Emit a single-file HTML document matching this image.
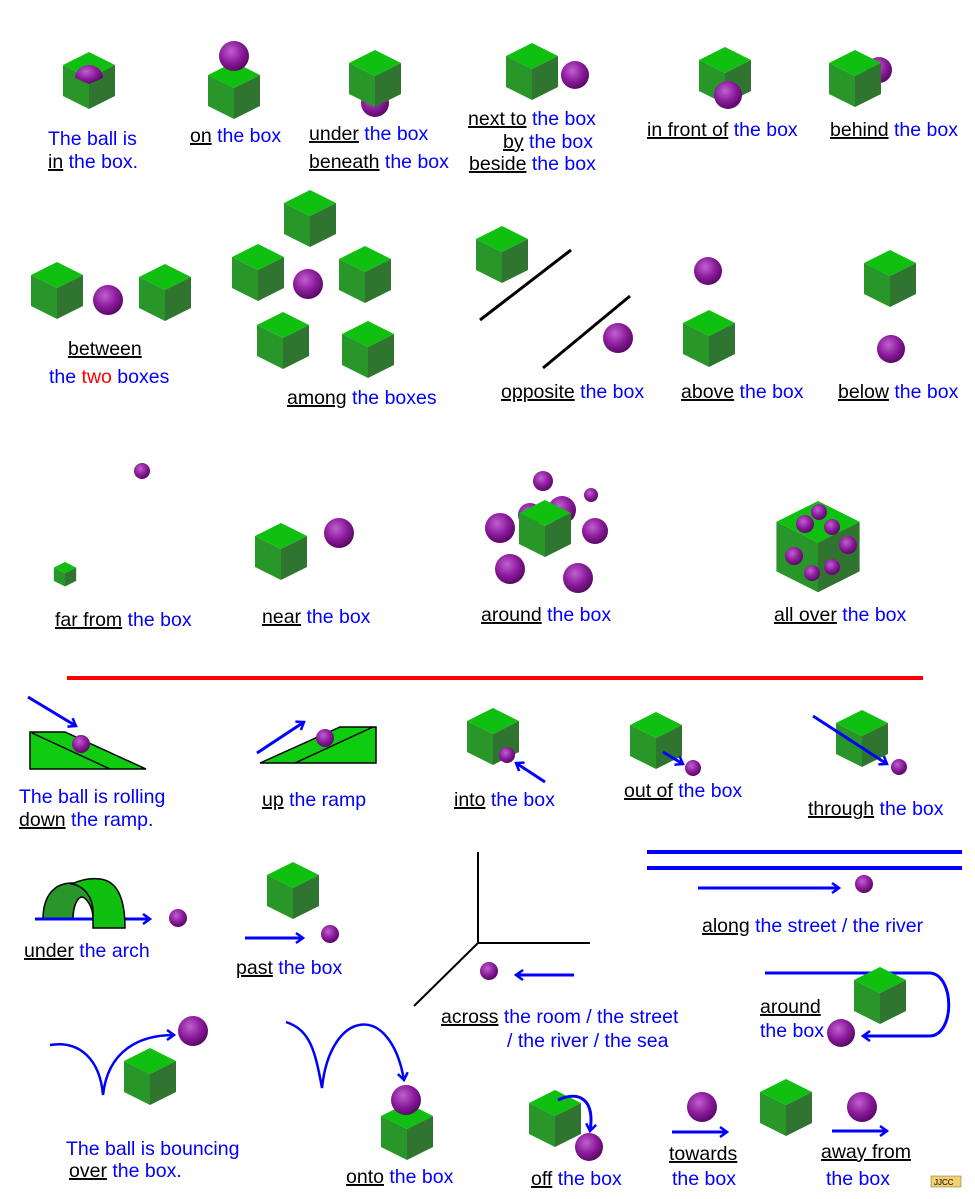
<!DOCTYPE html>
<html><head><meta charset="utf-8"><style>
body{margin:0;background:#fff}
svg{display:block}
text{font-family:"Liberation Sans",sans-serif;font-size:19.5px;fill:#0000ff}
.k{fill:#000}
</style></head><body>
<svg width="975" height="1199" viewBox="0 0 975 1199" xmlns="http://www.w3.org/2000/svg">
<defs>
<radialGradient id="bg" cx="0.4" cy="0.35" r="0.65">
<stop offset="0" stop-color="#c060d0"/><stop offset="0.6" stop-color="#8a1a9a"/><stop offset="1" stop-color="#5a0a66"/>
</radialGradient>
<g id="cube">
<polygon points="0,0 -26,13 0,26 26,13" fill="#10c010"/>
<polygon points="-26,13 0,26 0,57 -26,44" fill="#289628"/>
<polygon points="26,13 0,26 0,57 26,44" fill="#2f7530"/>
</g>
<marker id="ar" markerWidth="10" markerHeight="12" refX="8" refY="6" orient="auto" markerUnits="userSpaceOnUse">
<polyline points="1,1 8,6 1,11" fill="none" stroke="#0000ff" stroke-width="2.5"/>
</marker>
</defs>
<!-- row 1 -->
<use href="#cube" x="89" y="52"/>
<path d="M75,78 A14,13 0 0 1 103,78 L89,84 Z" fill="url(#bg)"/>
<use href="#cube" x="234" y="62"/>
<circle cx="234" cy="56" r="15" fill="url(#bg)"/>
<circle cx="375" cy="103" r="14" fill="url(#bg)"/>
<use href="#cube" x="375" y="50"/>
<use href="#cube" x="532" y="43"/>
<circle cx="575" cy="75" r="14" fill="url(#bg)"/>
<use href="#cube" x="725" y="47"/>
<circle cx="728" cy="95" r="14" fill="url(#bg)"/>
<circle cx="879" cy="70" r="13" fill="url(#bg)"/>
<use href="#cube" x="855" y="50"/>
<text x="48" y="145">The ball is</text>
<text x="48" y="168"><tspan class="k" text-decoration="underline">in</tspan> the box.</text>
<text x="190" y="142"><tspan class="k" text-decoration="underline">on</tspan>  the box</text>
<text x="309" y="140"><tspan class="k" text-decoration="underline">under</tspan>  the box</text>
<text x="309" y="168"><tspan class="k" text-decoration="underline">beneath</tspan> the box</text>
<text x="468" y="125"><tspan class="k" text-decoration="underline">next to</tspan> the box</text>
<text x="503" y="148"><tspan class="k" text-decoration="underline">by</tspan> the box</text>
<text x="469" y="170"><tspan class="k" text-decoration="underline">beside</tspan> the box</text>
<text x="647" y="136"><tspan class="k" text-decoration="underline">in front of</tspan> the box</text>
<text x="830" y="136"><tspan class="k" text-decoration="underline">behind</tspan> the box</text>
<!-- row 2 -->
<use href="#cube" x="57" y="262"/>
<use href="#cube" x="165" y="264"/>
<circle cx="108" cy="300" r="15" fill="url(#bg)"/>
<text x="68" y="355" class="k" text-decoration="underline">between</text>
<text x="49" y="383">the <tspan fill="#ff0000">two</tspan> boxes</text>
<use href="#cube" x="310" y="190"/>
<use href="#cube" x="258" y="244"/>
<use href="#cube" x="365" y="246"/>
<use href="#cube" x="283" y="312"/>
<use href="#cube" x="368" y="321"/>
<circle cx="308" cy="284" r="15" fill="url(#bg)"/>
<text x="287" y="404"><tspan class="k" text-decoration="underline">among</tspan>  the boxes</text>
<use href="#cube" x="502" y="226"/>
<line x1="480" y1="320" x2="571" y2="250" stroke="#000" stroke-width="3"/>
<line x1="543" y1="368" x2="630" y2="296" stroke="#000" stroke-width="3"/>
<circle cx="618" cy="338" r="15" fill="url(#bg)"/>
<text x="501" y="398"><tspan class="k" text-decoration="underline">opposite</tspan>  the box</text>
<circle cx="708" cy="271" r="14" fill="url(#bg)"/>
<use href="#cube" x="709" y="310"/>
<text x="681" y="398"><tspan class="k" text-decoration="underline">above</tspan>  the box</text>
<use href="#cube" x="890" y="250"/>
<circle cx="891" cy="349" r="14" fill="url(#bg)"/>
<text x="838" y="398"><tspan class="k" text-decoration="underline">below</tspan>  the box</text>
<!-- row 3 -->
<use href="#cube" transform="translate(65,562) scale(0.43)"/>
<circle cx="142" cy="471" r="8" fill="url(#bg)"/>
<text x="55" y="626"><tspan class="k" text-decoration="underline">far from</tspan>  the box</text>
<use href="#cube" x="281" y="523"/>
<circle cx="339" cy="533" r="15" fill="url(#bg)"/>
<text x="262" y="623"><tspan class="k" text-decoration="underline">near</tspan>  the box</text>
<circle cx="543" cy="481" r="10" fill="url(#bg)"/>
<circle cx="591" cy="495" r="7" fill="url(#bg)"/>
<circle cx="562" cy="510" r="14" fill="url(#bg)"/>
<circle cx="530" cy="515" r="12" fill="url(#bg)"/>
<use href="#cube" x="545" y="500"/>
<circle cx="500" cy="528" r="15" fill="url(#bg)"/>
<circle cx="595" cy="531" r="13" fill="url(#bg)"/>
<circle cx="510" cy="569" r="15" fill="url(#bg)"/>
<circle cx="578" cy="578" r="15" fill="url(#bg)"/>
<text x="481" y="621"><tspan class="k" text-decoration="underline">around</tspan>  the box</text>
<use href="#cube" transform="translate(818,501) scale(1.6)"/>
<circle cx="819" cy="512" r="8" fill="url(#bg)"/>
<circle cx="805" cy="524" r="9" fill="url(#bg)"/>
<circle cx="832" cy="527" r="8" fill="url(#bg)"/>
<circle cx="848" cy="545" r="9" fill="url(#bg)"/>
<circle cx="794" cy="556" r="9" fill="url(#bg)"/>
<circle cx="832" cy="567" r="8" fill="url(#bg)"/>
<circle cx="812" cy="573" r="8" fill="url(#bg)"/>
<text x="774" y="621"><tspan class="k" text-decoration="underline">all over</tspan> the box</text>
<line x1="67" y1="678" x2="923" y2="678" stroke="#ff0000" stroke-width="4"/>
<!-- lower -->
<polygon points="30,732 65,732 146,769 30,769" fill="#10cc10" stroke="#000" stroke-width="1.5"/>
<line x1="32" y1="733" x2="110" y2="769" stroke="#000" stroke-width="1.5"/>
<circle cx="81" cy="744" r="9" fill="url(#bg)"/>
<line x1="28" y1="697" x2="76" y2="726" stroke="#0000ff" stroke-width="3" marker-end="url(#ar)"/>
<text x="19" y="803">The ball is rolling</text>
<text x="19" y="826"><tspan class="k" text-decoration="underline">down</tspan>  the ramp.</text>
<polygon points="260,763 340,727 376,727 376,763" fill="#10cc10" stroke="#000" stroke-width="1.5"/>
<line x1="295" y1="763" x2="373" y2="727" stroke="#000" stroke-width="1.5"/>
<circle cx="325" cy="738" r="9" fill="url(#bg)"/>
<line x1="257" y1="753" x2="304" y2="722" stroke="#0000ff" stroke-width="3" marker-end="url(#ar)"/>
<text x="262" y="806"><tspan class="k" text-decoration="underline">up</tspan> the ramp</text>
<use href="#cube" x="493" y="708"/>
<circle cx="507" cy="755" r="8" fill="url(#bg)"/>
<line x1="545" y1="782" x2="516" y2="763" stroke="#0000ff" stroke-width="3" marker-end="url(#ar)"/>
<text x="454" y="806"><tspan class="k" text-decoration="underline">into</tspan> the box</text>
<use href="#cube" x="656" y="712"/>
<circle cx="693" cy="768" r="8" fill="url(#bg)"/>
<line x1="663" y1="752" x2="683" y2="764" stroke="#0000ff" stroke-width="3" marker-end="url(#ar)"/>
<text x="624" y="797"><tspan class="k" text-decoration="underline">out of</tspan>  the box</text>
<use href="#cube" x="862" y="710"/>
<line x1="813" y1="716" x2="887" y2="764" stroke="#0000ff" stroke-width="3" marker-end="url(#ar)"/>
<circle cx="899" cy="767" r="8" fill="url(#bg)"/>
<text x="808" y="815"><tspan class="k" text-decoration="underline">through</tspan> the box</text>
<!-- arch -->
<path d="M43,919 C43,895 55,883 72,883 C88,883 100,895 100,919 L93,919 C93,905 85,897 82,897 C78,897 73,905 73,919 Z" fill="#289628" stroke="#000" stroke-width="1.5"/>
<line x1="35" y1="919" x2="150" y2="919" stroke="#0000ff" stroke-width="3" marker-end="url(#ar)"/>
<path d="M93,928 L93,912 C93,897 84,886 72,884 C82,879 92,878 100,879 C118,881 125,900 125,928 Z" fill="#10c010" stroke="#000" stroke-width="1.5"/>
<circle cx="178" cy="918" r="9" fill="url(#bg)"/>
<text x="24" y="957"><tspan class="k" text-decoration="underline">under</tspan>  the arch</text>
<use href="#cube" x="293" y="862"/>
<line x1="245" y1="938" x2="303" y2="938" stroke="#0000ff" stroke-width="3" marker-end="url(#ar)"/>
<circle cx="330" cy="934" r="9" fill="url(#bg)"/>
<text x="236" y="974"><tspan class="k" text-decoration="underline">past</tspan> the box</text>
<path d="M478,852 L478,943 L590,943 M478,943 L414,1006" fill="none" stroke="#000" stroke-width="2"/>
<circle cx="489" cy="971" r="9" fill="url(#bg)"/>
<line x1="574" y1="975" x2="516" y2="975" stroke="#0000ff" stroke-width="3" marker-end="url(#ar)"/>
<text x="441" y="1023"><tspan class="k" text-decoration="underline">across</tspan>  the room / the street</text>
<text x="507" y="1047">/ the river / the sea</text>
<line x1="647" y1="852" x2="962" y2="852" stroke="#0000ff" stroke-width="4"/>
<line x1="647" y1="868" x2="962" y2="868" stroke="#0000ff" stroke-width="4"/>
<line x1="698" y1="888" x2="839" y2="888" stroke="#0000ff" stroke-width="3" marker-end="url(#ar)"/>
<circle cx="864" cy="884" r="9" fill="url(#bg)"/>
<text x="702" y="932"><tspan class="k" text-decoration="underline">along</tspan>  the street / the river</text>
<path d="M765,973 L930,973 C955,975 955,1035 930,1036 L863,1036" fill="none" stroke="#0000ff" stroke-width="3" marker-end="url(#ar)"/>
<use href="#cube" x="880" y="967"/>
<circle cx="841" cy="1033" r="14" fill="url(#bg)"/>
<text x="760" y="1013" class="k" text-decoration="underline">around</text>
<text x="760" y="1037">the box</text>
<path d="M50,1045 C80,1040 100,1060 103,1095 C108,1050 140,1035 174,1035" fill="none" stroke="#0000ff" stroke-width="2.5" marker-end="url(#ar)"/>
<use href="#cube" x="150" y="1048"/>
<circle cx="193" cy="1031" r="15" fill="url(#bg)"/>
<text x="66" y="1155">The ball is bouncing</text>
<text x="69" y="1177"><tspan class="k" text-decoration="underline">over</tspan> the box.</text>
<path d="M286,1022 C310,1030 315,1050 322,1088 C330,1010 390,1000 404,1080" fill="none" stroke="#0000ff" stroke-width="2.5" marker-end="url(#ar)"/>
<use href="#cube" x="407" y="1103"/>
<circle cx="406" cy="1100" r="15" fill="url(#bg)"/>
<text x="346" y="1183"><tspan class="k" text-decoration="underline">onto</tspan> the box</text>
<use href="#cube" x="555" y="1090"/>
<path d="M558,1100 C580,1090 595,1100 590,1131" fill="none" stroke="#0000ff" stroke-width="3" marker-end="url(#ar)"/>
<circle cx="589" cy="1147" r="14" fill="url(#bg)"/>
<text x="531" y="1185"><tspan class="k" text-decoration="underline">off</tspan>  the box</text>
<circle cx="702" cy="1107" r="15" fill="url(#bg)"/>
<line x1="672" y1="1132" x2="727" y2="1132" stroke="#0000ff" stroke-width="3" marker-end="url(#ar)"/>
<use href="#cube" x="786" y="1079"/>
<text x="669" y="1160" class="k" text-decoration="underline">towards</text>
<text x="672" y="1185">the box</text>
<circle cx="862" cy="1107" r="15" fill="url(#bg)"/>
<line x1="832" y1="1131" x2="887" y2="1131" stroke="#0000ff" stroke-width="3" marker-end="url(#ar)"/>
<text x="821" y="1158" class="k" text-decoration="underline">away from</text>
<text x="826" y="1185">the box</text>
<rect x="931" y="1176" width="30" height="11" fill="#f0d070" stroke="#806020" stroke-width="0.5"/>
<text x="934" y="1185" style="font-size:8px;fill:#000">JJCC</text>
</svg>
</body></html>
